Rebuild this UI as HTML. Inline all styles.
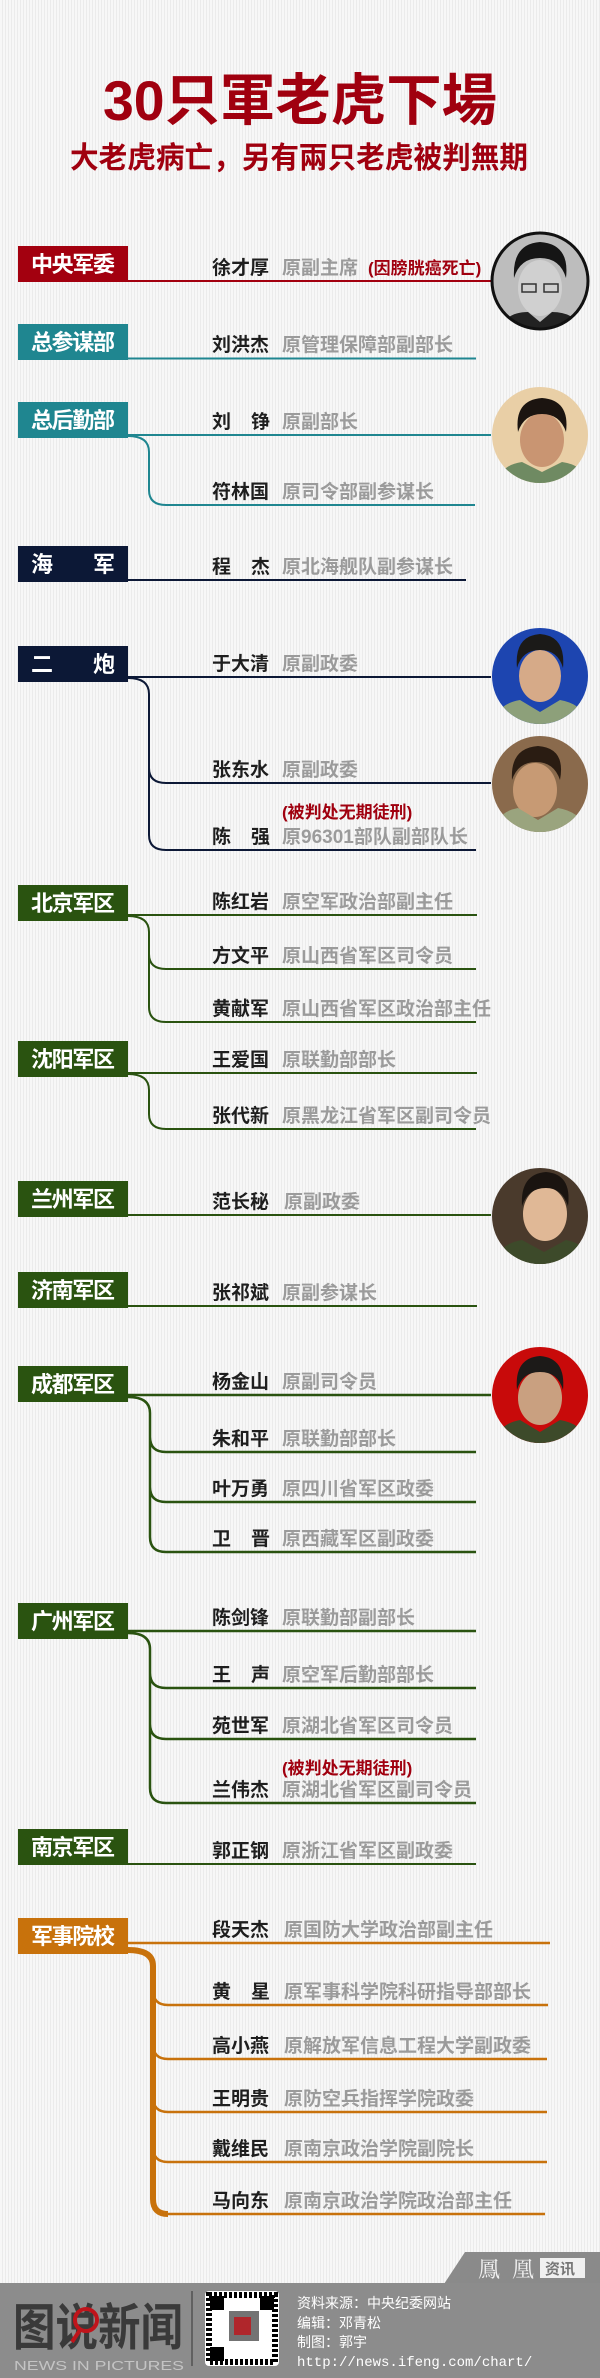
<!DOCTYPE html>
<html><head><meta charset="utf-8">
<style>
html,body{margin:0;padding:0;}
body{width:600px;height:2378px;overflow:hidden;background:#f2f2f2;
background-image:repeating-linear-gradient(90deg,#f7f7f7 0 2px,#ebebeb 2px 3px);}
svg{display:block;font-family:"Liberation Sans","Noto Sans CJK SC",sans-serif;}
.n{font-size:19px;font-weight:bold;fill:#1e1e1e;}
.t{font-size:19px;font-weight:bold;fill:#9b9b9b;}
.r{font-size:17px;font-weight:bold;fill:#a0000f;}
.b{font-size:22px;font-weight:bold;fill:#fff;}
.f{font-size:14px;fill:#fff;}
</style></head><body>
<svg width="600" height="2378" viewBox="0 0 600 2378" xmlns="http://www.w3.org/2000/svg">
<defs>
<clipPath id="c1"><circle cx="540" cy="281" r="48"/></clipPath>
<clipPath id="c2"><circle cx="540" cy="435" r="48"/></clipPath>
<clipPath id="c3"><circle cx="540" cy="676" r="48"/></clipPath>
<clipPath id="c4"><circle cx="540" cy="784" r="48"/></clipPath>
<clipPath id="c5"><circle cx="540" cy="1216" r="48"/></clipPath>
<clipPath id="c6"><circle cx="540" cy="1395" r="48"/></clipPath>
</defs>

<!-- Title -->
<text x="300" y="120" text-anchor="middle" font-size="56" font-weight="bold" fill="#a0000f" textLength="394" lengthAdjust="spacingAndGlyphs">30只軍老虎下場</text>
<text x="299" y="168" text-anchor="middle" font-size="30" font-weight="bold" fill="#a0000f" textLength="458" lengthAdjust="spacingAndGlyphs">大老虎病亡，另有兩只老虎被判無期</text>

<!-- 中央军委 -->
<rect x="18" y="246" width="110" height="36" fill="#a3000f"/>
<text class="b" x="31" y="272" textLength="84">中央军委</text>
<line x1="128" y1="281" x2="491" y2="281" stroke="#a3000f" stroke-width="2"/>
<text class="n" x="212" y="274">徐才厚</text><text class="t" x="282" y="274">原副主席</text>
<text class="r" x="368" y="274">(因膀胱癌死亡)</text>

<!-- 总参谋部 -->
<rect x="18" y="324" width="110" height="36" fill="#1f8690"/>
<text class="b" x="31" y="350" textLength="84">总参谋部</text>
<line x1="128" y1="358.5" x2="476" y2="358.5" stroke="#1f8690" stroke-width="2"/>
<text class="n" x="212" y="351">刘洪杰</text><text class="t" x="282" y="351">原管理保障部副部长</text>

<!-- 总后勤部 -->
<rect x="18" y="402" width="110" height="36" fill="#1f8690"/>
<text class="b" x="31" y="428" textLength="84">总后勤部</text>
<path d="M128 435 H491 M128 436 Q149 436 149 452 V490 Q149 505 166 505 H475" fill="none" stroke="#1f8690" stroke-width="2"/>
<text class="n" x="212" y="428" textLength="58" lengthAdjust="spacing">刘铮</text><text class="t" x="282" y="428">原副部长</text>
<text class="n" x="212" y="498">符林国</text><text class="t" x="282" y="498">原司令部副参谋长</text>

<!-- 海军 -->
<rect x="18" y="546" width="110" height="36" fill="#0c1836"/>
<text class="b" x="31" y="572" textLength="84" lengthAdjust="spacing">海军</text>
<line x1="128" y1="580" x2="466" y2="580" stroke="#0c1836" stroke-width="2"/>
<text class="n" x="212" y="573" textLength="58" lengthAdjust="spacing">程杰</text><text class="t" x="282" y="573">原北海舰队副参谋长</text>

<!-- 二炮 -->
<rect x="18" y="646" width="110" height="36" fill="#0c1836"/>
<text class="b" x="31" y="672" textLength="84" lengthAdjust="spacing">二炮</text>
<path d="M128 677 H491 M128 678 Q149 678 149 694 V768 Q149 783 166 783 H491 M149 768 V835 Q149 850 166 850 H476" fill="none" stroke="#0c1836" stroke-width="2"/>
<text class="n" x="212" y="670">于大清</text><text class="t" x="282" y="670">原副政委</text>
<text class="n" x="212" y="776">张东水</text><text class="t" x="282" y="776">原副政委</text>
<text class="r" x="282" y="818">(被判处无期徒刑)</text>
<text class="n" x="212" y="843" textLength="58" lengthAdjust="spacing">陈强</text><text class="t" x="282" y="843">原96301部队副部队长</text>

<!-- 北京军区 -->
<rect x="18" y="885" width="110" height="36" fill="#2a5310"/>
<text class="b" x="31" y="911" textLength="84">北京军区</text>
<path d="M128 915 H477 M128 916 Q149 916 149 932 V954 Q149 969 166 969 H476 M149 954 V1007 Q149 1022 166 1022 H476" fill="none" stroke="#2a5310" stroke-width="2"/>
<text class="n" x="212" y="908">陈红岩</text><text class="t" x="282" y="908">原空军政治部副主任</text>
<text class="n" x="212" y="962">方文平</text><text class="t" x="282" y="962">原山西省军区司令员</text>
<text class="n" x="212" y="1015">黄献军</text><text class="t" x="282" y="1015">原山西省军区政治部主任</text>

<!-- 沈阳军区 -->
<rect x="18" y="1041" width="110" height="36" fill="#2a5310"/>
<text class="b" x="31" y="1067" textLength="84">沈阳军区</text>
<path d="M128 1073 H477 M128 1074 Q149 1074 149 1090 V1114 Q149 1129 166 1129 H476" fill="none" stroke="#2a5310" stroke-width="2"/>
<text class="n" x="212" y="1066">王爱国</text><text class="t" x="282" y="1066">原联勤部部长</text>
<text class="n" x="212" y="1122">张代新</text><text class="t" x="282" y="1122">原黑龙江省军区副司令员</text>

<!-- 兰州军区 -->
<rect x="18" y="1181" width="110" height="36" fill="#2a5310"/>
<text class="b" x="31" y="1207" textLength="84">兰州军区</text>
<line x1="128" y1="1215" x2="491" y2="1215" stroke="#2a5310" stroke-width="2"/>
<text class="n" x="212" y="1208">范长秘</text><text class="t" x="284" y="1208">原副政委</text>

<!-- 济南军区 -->
<rect x="18" y="1272" width="110" height="36" fill="#2a5310"/>
<text class="b" x="31" y="1298" textLength="84">济南军区</text>
<line x1="128" y1="1306" x2="477" y2="1306" stroke="#2a5310" stroke-width="2"/>
<text class="n" x="212" y="1299">张祁斌</text><text class="t" x="282" y="1299">原副参谋长</text>

<!-- 成都军区 -->
<rect x="18" y="1366" width="110" height="36" fill="#2a5310"/>
<text class="b" x="31" y="1392" textLength="84">成都军区</text>
<path d="M128 1395 H491 M128 1397 Q150 1397 150 1413 V1437 Q150 1452 166 1452 H476 M150 1437 V1487 Q150 1502 166 1502 H476 M150 1487 V1537 Q150 1552 166 1552 H476" fill="none" stroke="#2a5310" stroke-width="2.5"/>
<text class="n" x="212" y="1388">杨金山</text><text class="t" x="282" y="1388">原副司令员</text>
<text class="n" x="212" y="1445">朱和平</text><text class="t" x="282" y="1445">原联勤部部长</text>
<text class="n" x="212" y="1495">叶万勇</text><text class="t" x="282" y="1495">原四川省军区政委</text>
<text class="n" x="212" y="1545" textLength="58" lengthAdjust="spacing">卫晋</text><text class="t" x="282" y="1545">原西藏军区副政委</text>

<!-- 广州军区 -->
<rect x="18" y="1603" width="110" height="36" fill="#2a5310"/>
<text class="b" x="31" y="1629" textLength="84">广州军区</text>
<path d="M128 1631 H476 M128 1633 Q150 1633 150 1649 V1673 Q150 1688 166 1688 H476 M150 1673 V1724 Q150 1739 166 1739 H476 M150 1724 V1788 Q150 1803 166 1803 H476" fill="none" stroke="#2a5310" stroke-width="2.5"/>
<text class="n" x="212" y="1624">陈剑锋</text><text class="t" x="282" y="1624">原联勤部副部长</text>
<text class="n" x="212" y="1681" textLength="58" lengthAdjust="spacing">王声</text><text class="t" x="282" y="1681">原空军后勤部部长</text>
<text class="n" x="212" y="1732">苑世军</text><text class="t" x="282" y="1732">原湖北省军区司令员</text>
<text class="r" x="282" y="1774">(被判处无期徒刑)</text>
<text class="n" x="212" y="1796">兰伟杰</text><text class="t" x="282" y="1796">原湖北省军区副司令员</text>

<!-- 南京军区 -->
<rect x="18" y="1829" width="110" height="36" fill="#2a5310"/>
<text class="b" x="31" y="1855" textLength="84">南京军区</text>
<line x1="128" y1="1864" x2="476" y2="1864" stroke="#2a5310" stroke-width="2"/>
<text class="n" x="212" y="1857">郭正钢</text><text class="t" x="282" y="1857">原浙江省军区副政委</text>

<!-- 军事院校 -->
<rect x="18" y="1918" width="110" height="36" fill="#c8720c"/>
<text class="b" x="31" y="1944" textLength="84">军事院校</text>
<line x1="128" y1="1943" x2="550" y2="1943" stroke="#c8720c" stroke-width="2.5"/>
<path d="M128 1950 Q153 1950 153 1966 V2199 Q153 2214 168 2214" fill="none" stroke="#c8720c" stroke-width="6"/>
<path d="M153 1990 Q153 2005 168 2005 H548 M153 2044 Q153 2059 168 2059 H547 M153 2097 Q153 2112 168 2112 H547 M153 2147 Q153 2162 168 2162 H547 M168 2214 H545" fill="none" stroke="#c8720c" stroke-width="2.5"/>
<text class="n" x="212" y="1936">段天杰</text><text class="t" x="284" y="1936">原国防大学政治部副主任</text>
<text class="n" x="212" y="1998" textLength="58" lengthAdjust="spacing">黄星</text><text class="t" x="284" y="1998">原军事科学院科研指导部部长</text>
<text class="n" x="212" y="2052">高小燕</text><text class="t" x="284" y="2052">原解放军信息工程大学副政委</text>
<text class="n" x="212" y="2105">王明贵</text><text class="t" x="284" y="2105">原防空兵指挥学院政委</text>
<text class="n" x="212" y="2155">戴维民</text><text class="t" x="284" y="2155">原南京政治学院副院长</text>
<text class="n" x="212" y="2207">马向东</text><text class="t" x="284" y="2207">原南京政治学院政治部主任</text>

<!-- Photos -->
<g clip-path="url(#c1)">
<rect x="490" y="231" width="100" height="100" fill="#bdbdbd"/>
<ellipse cx="540" cy="288" rx="22" ry="28" fill="#d0d0d0"/>
<path d="M514 278 Q512 244 540 242 Q570 244 566 278 Q560 258 540 258 Q520 258 514 278Z" fill="#151515"/>
<path d="M500 331 Q505 312 528 312 L540 322 L552 312 Q576 312 582 331Z" fill="#222"/>
<rect x="522" y="284" width="14" height="8" fill="none" stroke="#333" stroke-width="1.5"/><rect x="544" y="284" width="14" height="8" fill="none" stroke="#333" stroke-width="1.5"/>
</g>
<circle cx="540" cy="281" r="48" fill="none" stroke="#111" stroke-width="3"/>

<g clip-path="url(#c2)">
<rect x="490" y="385" width="100" height="100" fill="#e9cfa6"/>
<ellipse cx="542" cy="440" rx="22" ry="27" fill="#c99572"/>
<path d="M518 432 Q514 400 542 398 Q570 400 566 432 Q560 414 542 414 Q524 414 518 432Z" fill="#1b1410"/>
<path d="M495 485 Q500 465 522 462 L542 472 L562 462 Q585 465 588 485Z" fill="#6f8a62"/>
</g>

<g clip-path="url(#c3)">
<rect x="490" y="626" width="100" height="100" fill="#1d45b0"/>
<ellipse cx="540" cy="676" rx="21" ry="26" fill="#d6aa88"/>
<path d="M517 668 Q514 636 540 634 Q566 636 563 668 Q558 650 540 650 Q522 650 517 668Z" fill="#1b1a18"/>
<path d="M492 726 Q496 704 520 700 L540 712 L560 700 Q584 704 590 726Z" fill="#8da07a"/>
</g>

<g clip-path="url(#c4)">
<rect x="490" y="734" width="100" height="100" fill="#8a6a4c"/>
<ellipse cx="535" cy="790" rx="22" ry="27" fill="#c79a74"/>
<path d="M512 780 Q510 748 538 746 Q566 748 560 780 Q554 762 536 762 Q518 762 512 780Z" fill="#2a1c12"/>
<path d="M492 834 Q496 812 518 808 L538 820 L558 808 Q582 812 590 834Z" fill="#9aa47e"/>
</g>

<g clip-path="url(#c5)">
<rect x="490" y="1166" width="100" height="100" fill="#4a3a2c"/>
<ellipse cx="545" cy="1214" rx="22" ry="27" fill="#e0b896"/>
<path d="M522 1206 Q520 1174 546 1172 Q572 1174 568 1206 Q562 1188 546 1188 Q528 1188 522 1206Z" fill="#1a1410"/>
<path d="M492 1266 Q498 1244 522 1240 L544 1252 L566 1240 Q588 1244 592 1266Z" fill="#3d4a2a"/>
</g>

<g clip-path="url(#c6)">
<rect x="490" y="1345" width="100" height="100" fill="#c80a0a"/>
<ellipse cx="540" cy="1398" rx="22" ry="27" fill="#c9a080"/>
<path d="M517 1390 Q514 1358 540 1356 Q566 1358 563 1390 Q558 1372 540 1372 Q522 1372 517 1390Z" fill="#1c1a18"/>
<path d="M492 1445 Q498 1424 520 1420 L540 1432 L560 1420 Q584 1424 590 1445Z" fill="#3d4a2a"/>
</g>

<!-- Footer -->
<polygon points="444,2284 465,2252 600,2252 600,2284" fill="#8a8a8a"/>
<text x="478" y="2277" font-size="22" fill="#f0f0f0" font-family="'Noto Serif CJK SC',serif" textLength="56">鳳凰</text>
<rect x="540" y="2258" width="45" height="20" fill="#f0f0f0"/>
<text x="545" y="2274" font-size="15" font-weight="bold" fill="#777">资讯</text>
<rect x="0" y="2283" width="600" height="95" fill="#8c8c8c"/>
<text x="13" y="2345" font-size="50" font-weight="bold" fill="#3a3a3a" textLength="170" lengthAdjust="spacingAndGlyphs">图说新闻</text>
<circle cx="86" cy="2320" r="11" fill="none" stroke="#c0141b" stroke-width="4"/>
<line x1="80" y1="2330" x2="72" y2="2342" stroke="#c0141b" stroke-width="4"/>
<text x="14" y="2370" font-size="13" fill="#c4c4c4" textLength="170" lengthAdjust="spacingAndGlyphs">NEWS IN PICTURES</text>
<line x1="192" y1="2291" x2="192" y2="2366" stroke="#333" stroke-width="1"/>
<rect x="205" y="2291" width="74" height="75" rx="4" fill="#fff"/>
<rect x="209" y="2295" width="66" height="67" fill="none" stroke="#000" stroke-width="6" stroke-dasharray="3 2"/>
<rect x="210" y="2296" width="14" height="14" fill="#000"/><rect x="260" y="2296" width="14" height="14" fill="#000"/><rect x="210" y="2347" width="14" height="14" fill="#000"/>
<rect x="229" y="2311" width="30" height="30" fill="#000" opacity="0.55"/>
<rect x="234" y="2317" width="17" height="18" fill="#b0262b"/>
<text class="f" x="297" y="2308">资料来源：中央纪委网站</text>
<text class="f" x="297" y="2328">编辑：邓青松</text>
<text class="f" x="297" y="2347">制图：郭宇</text>
<text x="297" y="2366" font-size="14" fill="#fff" font-family="'Liberation Mono',monospace">http://news.ifeng.com/chart/</text>
</svg>
</body></html>
